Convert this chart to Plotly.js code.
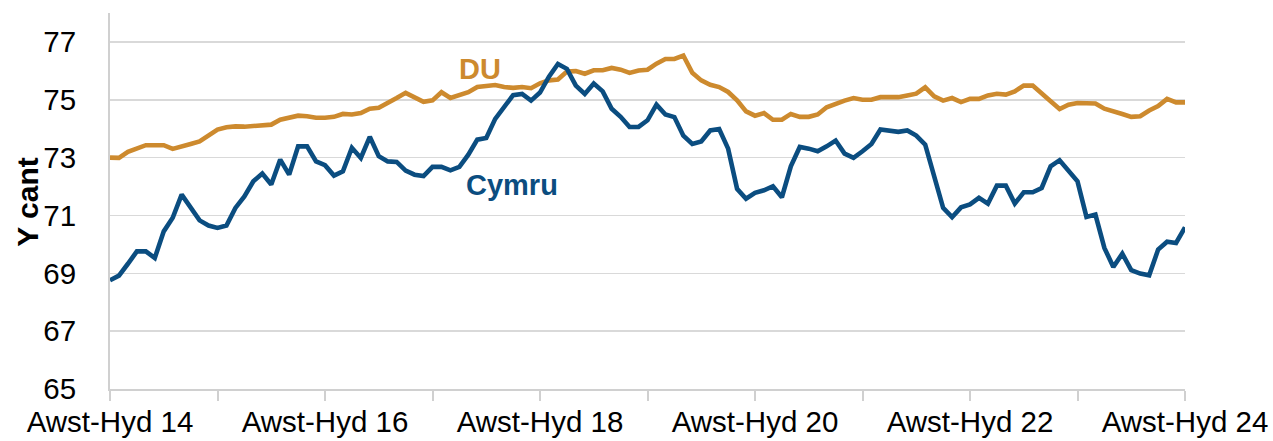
<!DOCTYPE html>
<html>
<head>
<meta charset="utf-8">
<script src="https://cdn.plot.ly/plotly-3.0.1.min.js"></script>
<style>
html,body{margin:0;padding:0;background:#fff;}
#chart{width:1273px;height:441px;}
</style>
</head>
<body>
<div id="chart"></div>
<script>
// Rolling 3-month periods (Awst-Hyd 2014 to Awst-Hyd 2024), monthly steps
const periodIndex = Array.from({length: 121}, (_, i) => i);

const tickPositions = [0, 12, 24, 36, 48, 60, 72, 84, 96, 108, 120];
const tickLabels = ["Awst-Hyd 14", "", "Awst-Hyd 16", "", "Awst-Hyd 18", "", "Awst-Hyd 20", "", "Awst-Hyd 22", "", "Awst-Hyd 24"];

const cymru = [
  68.76, 68.92, 69.33, 69.76, 69.76, 69.53, 70.45, 70.92, 71.72, 71.26,
  70.83, 70.65, 70.57, 70.65, 71.26, 71.66, 72.18, 72.45, 72.07, 72.93,
  72.41, 73.39, 73.39, 72.87, 72.74, 72.38, 72.53, 73.34, 72.99, 73.72,
  73.05, 72.87, 72.85, 72.55, 72.41, 72.36, 72.68, 72.68, 72.56, 72.68,
  73.10, 73.62, 73.68, 74.34, 74.72, 75.16, 75.20, 74.97, 75.25, 75.80,
  76.24, 76.07, 75.49, 75.20, 75.56, 75.29, 74.69, 74.41, 74.06, 74.06,
  74.29, 74.83, 74.49, 74.40, 73.76, 73.47, 73.56, 73.94, 73.99, 73.31,
  71.92, 71.58, 71.78, 71.87, 72.01, 71.63, 72.70, 73.37, 73.31, 73.22,
  73.39, 73.59, 73.14, 72.99, 73.22, 73.47, 73.97, 73.94, 73.89, 73.94,
  73.76, 73.45, 72.30, 71.26, 70.94, 71.28, 71.38, 71.61, 71.41, 72.03,
  72.03, 71.41, 71.80, 71.80, 71.95, 72.70, 72.91, 72.56, 72.18, 70.95,
  71.03, 69.88, 69.22, 69.68, 69.11, 68.99, 68.93, 69.82, 70.09, 70.05,
  70.59
];

const du = [
  73.00, 72.99, 73.20, 73.30, 73.43, 73.43, 73.43, 73.30, 73.37, 73.47,
  73.56, 73.76, 73.97, 74.05, 74.08, 74.07, 74.09, 74.10, 74.14, 74.31,
  74.37, 74.45, 74.43, 74.38, 74.38, 74.41, 74.51, 74.49, 74.54, 74.69,
  74.72, 74.87, 75.06, 75.24, 75.09, 74.93, 74.98, 75.26, 75.06, 75.18,
  75.26, 75.44, 75.49, 75.51, 75.44, 75.41, 75.44, 75.40, 75.57, 75.67,
  75.70, 75.98, 75.99, 75.90, 76.02, 76.02, 76.10, 76.04, 75.93, 76.01,
  76.04, 76.25, 76.41, 76.41, 76.53, 75.93, 75.67, 75.52, 75.44, 75.27,
  74.98, 74.60, 74.45, 74.54, 74.31, 74.31, 74.51, 74.41, 74.41, 74.49,
  74.74, 74.87, 74.97, 75.06, 75.00, 75.00, 75.09, 75.09, 75.09, 75.15,
  75.21, 75.43, 75.12, 74.97, 75.06, 74.92, 75.03, 75.03, 75.15, 75.21,
  75.18, 75.29, 75.49, 75.49, 75.24, 74.95, 74.68, 74.83, 74.89, 74.87,
  74.87, 74.69, 74.58, 74.51, 74.41, 74.43, 74.63, 74.78, 75.03, 74.91,
  74.91
];

const seriesNames = ["DU", "Cymru"];
const blue = "#0b4d80";
const orange = "#cd8a2e";

const traces = [
  {x: periodIndex, y: du, type: "scatter", mode: "lines", name: seriesNames[0],
   line: {color: orange, width: 4.6}, hoverinfo: "skip"},
  {x: periodIndex, y: cymru, type: "scatter", mode: "lines", name: seriesNames[1],
   line: {color: blue, width: 4.6}, hoverinfo: "skip"}
];

const layout = {
  width: 1273, height: 441,
  margin: {l: 110, r: 88, t: 13, b: 52},
  paper_bgcolor: "#fff", plot_bgcolor: "#fff",
  showlegend: false,
  font: {family: "Liberation Sans, Arial, sans-serif", color: "#000"},
  xaxis: {
    range: [0, 120], tickmode: "array", tickvals: tickPositions, ticktext: tickLabels,
    showgrid: false, zeroline: false, showline: true, linecolor: "#d0d0d0", linewidth: 2,
    ticks: "outside", ticklen: 10, tickwidth: 2, tickcolor: "#d0d0d0",
    ticklabelstandoff: -4,
    tickfont: {size: 29.5, color: "#000"}, fixedrange: true
  },
  yaxis: {
    range: [65, 78], tick0: 65, dtick: 2, tickmode: "linear",
    showgrid: true, gridcolor: "#d9d9d9", gridwidth: 1.5,
    zeroline: false, showline: true, linecolor: "#d0d0d0", linewidth: 2,
    ticks: "", ticklabelstandoff: 26,
    tickfont: {size: 29.5, color: "#000"},
    fixedrange: true
  },
  annotations: [
    {x: -0.0763, y: 0.498, xref: "paper", yref: "paper", text: "<b>Y cant</b>", showarrow: false,
     textangle: -90, font: {size: 30, color: "#000"}, xanchor: "center", yanchor: "middle"},
    {x: 41.3, y: 76.05, xref: "x", yref: "y", text: "<b>DU</b>", showarrow: false,
     font: {size: 29, color: orange}, xanchor: "center", yanchor: "middle"},
    {x: 44.9, y: 72.05, xref: "x", yref: "y", text: "<b>Cymru</b>", showarrow: false,
     font: {size: 29, color: blue}, xanchor: "center", yanchor: "middle"}
  ]
};

Plotly.newPlot("chart", traces, layout, {displayModeBar: false, staticPlot: true});
</script>
</body>
</html>
